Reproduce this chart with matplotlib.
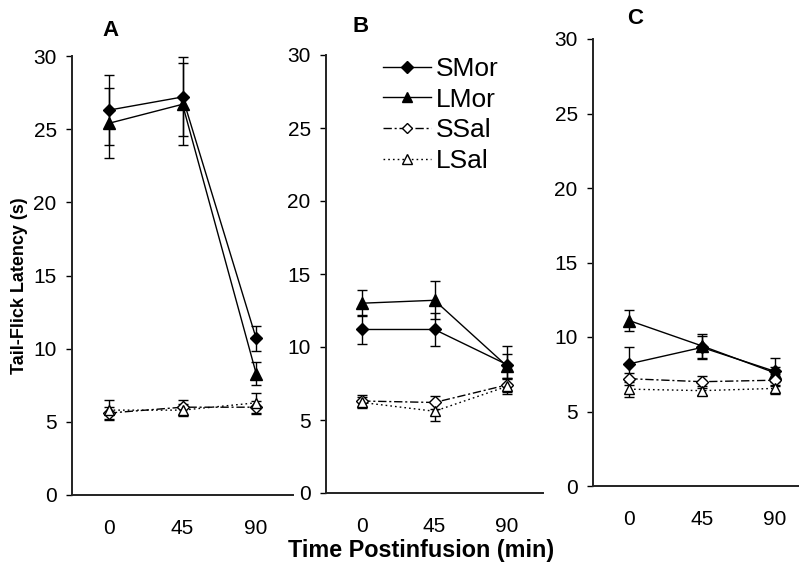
import matplotlib
matplotlib.use("Agg")
import matplotlib.pyplot as plt
from matplotlib.lines import Line2D

plt.rcParams['font.family'] = ['Liberation Sans', 'DejaVu Sans']

times = ['0', '45', '90']
series = ['SMor', 'LMor', 'SSal', 'LSal']

# panel A
a_mean = {'SMor': [26.3, 27.2, 10.7], 'LMor': [25.4, 26.7, 8.3],
          'SSal': [5.6, 6.0, 6.0], 'LSal': [5.8, 5.8, 6.3]}
a_err = {'SMor': [2.4, 2.7, 0.85], 'LMor': [2.4, 2.8, 0.8],
         'SSal': [0.4, 0.5, 0.45], 'LSal': [0.7, 0.4, 0.7]}
# panel B
b_mean = {'SMor': [11.2, 11.2, 8.8], 'LMor': [13.0, 13.2, 8.7],
          'SSal': [6.3, 6.2, 7.4], 'LSal': [6.2, 5.6, 7.3]}
b_err = {'SMor': [1.0, 1.1, 1.3], 'LMor': [0.9, 1.3, 0.8],
         'SSal': [0.4, 0.45, 0.5], 'LSal': [0.35, 0.7, 0.5]}
# panel C
c_mean = {'SMor': [8.2, 9.3, 7.7], 'LMor': [11.1, 9.4, 7.6],
          'SSal': [7.2, 7.0, 7.1], 'LSal': [6.5, 6.4, 6.55]}
c_err = {'SMor': [1.1, 0.8, 0.9], 'LMor': [0.7, 0.8, 0.4],
         'SSal': [0.4, 0.4, 0.4], 'LSal': [0.5, 0.3, 0.4]}

styles = {
    'SMor': dict(marker='D', mfc='black', ls='-', ms=6.5),
    'LMor': dict(marker='^', mfc='black', ls='-', ms=8),
    'SSal': dict(marker='D', mfc='white', ls=(0, (6, 2, 1.5, 2)), ms=6),
    'LSal': dict(marker='^', mfc='white', ls=(0, (1.2, 2.2)), ms=7.5),
}

W, H = 799, 567
fig = plt.figure(figsize=(W / 100, H / 100), dpi=100)


def px_axes(x0, x1, y_top, y_bot):
    return fig.add_axes([x0 / W, 1 - y_bot / H, (x1 - x0) / W, (y_bot - y_top) / H])


def draw_panel(ax, means, errs, xmax=2.5):
    x = range(len(times))
    for s in series:
        st = styles[s]
        ax.errorbar(x, means[s], yerr=errs[s], fmt='none', ecolor='black',
                    elinewidth=1, capsize=3.5, capthick=1, zorder=2)
        ax.plot(x, means[s], color='black', lw=1, ls=st['ls'], marker=st['marker'],
                ms=st['ms'], mfc=st['mfc'], mec='black', mew=1, label=s, zorder=3)
    ax.set_xlim(-0.5, xmax)
    ax.set_ylim(0, 30)
    ax.set_yticks(range(0, 31, 5))
    ax.set_xticks(list(x))
    ax.set_xticklabels(times)
    for sp in ['top', 'right']:
        ax.spines[sp].set_visible(False)
    for sp in ['left', 'bottom']:
        ax.spines[sp].set_linewidth(1.4)
        ax.spines[sp].set_color('#222222')
    ax.tick_params(axis='y', direction='out', length=4, width=1, labelsize=15, pad=7)
    ax.tick_params(axis='x', length=0, labelsize=15, pad=17)


ax_a = px_axes(72, 293, 56, 495)
draw_panel(ax_a, a_mean, a_err)
ax_b = px_axes(326, 543, 55, 493)
draw_panel(ax_b, b_mean, b_err)
ax_c = px_axes(593, 799, 39, 486)
draw_panel(ax_c, c_mean, c_err, xmax=-0.5 + 3 * 206 / 218)

fig.text(110 / W, 1 - 30 / H, 'A', fontsize=16, fontweight='bold', ha='center', va='center')
fig.text(361 / W, 1 - 27 / H, 'B', fontsize=16, fontweight='bold', ha='center', va='center')
fig.text(635 / W, 1 - 18 / H, 'C', fontsize=16, fontweight='bold', ha='center', va='center')

fig.text(20 / W, 1 - 286 / H, 'Tail-Flick Latency (s)', fontsize=13, fontweight='bold',
         rotation=90, ha='center', va='center')
fig.text(421 / W, 1 - 550 / H, 'Time Postinfusion (min)', fontsize=16.8, fontweight='bold',
         ha='center', va='center')

handles = []
for s in series:
    st = styles[s]
    handles.append(Line2D([], [], color='black', lw=1, ls=st['ls'], marker=st['marker'],
                          ms=st['ms'] * 0.9, mfc=st['mfc'], mec='black'))
fig.legend(handles, series, loc='upper left', bbox_to_anchor=(383 / W, 1 - 57 / H),
           frameon=False, fontsize=19, handlelength=1.8, handletextpad=0.2,
           labelspacing=0.25, borderpad=0, borderaxespad=0)

fig.savefig('out.png', dpi=100)
